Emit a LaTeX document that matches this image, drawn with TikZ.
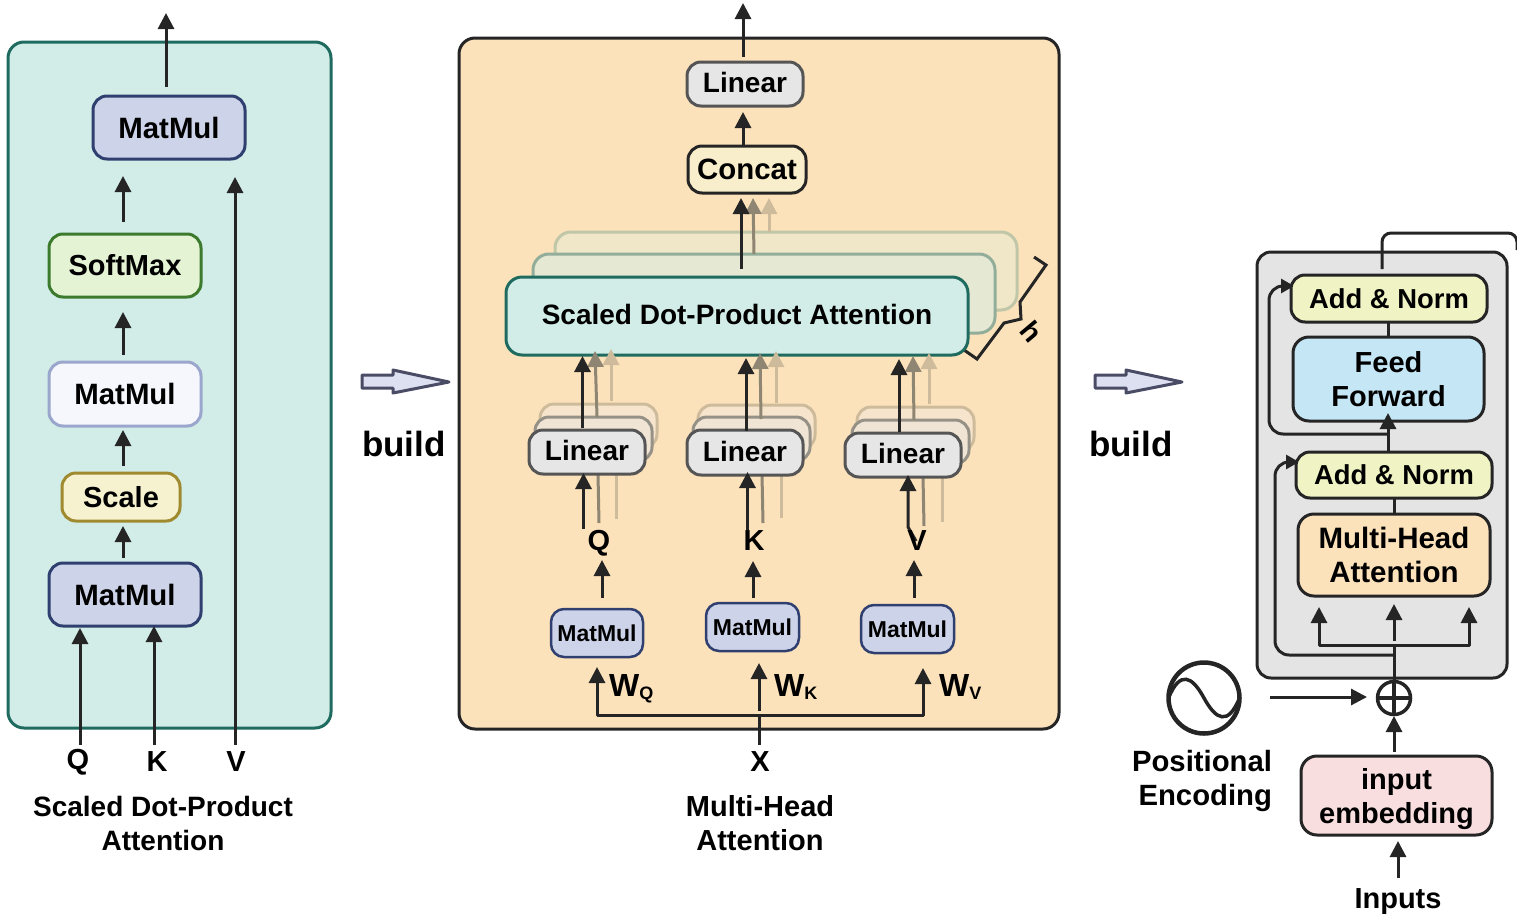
\documentclass[tikz,border=0pt]{standalone}
\usepackage{fontspec}
\setmainfont{Liberation Sans}
\usetikzlibrary{arrows.meta}
\definecolor{dk}{HTML}{252525}
\definecolor{tealf}{HTML}{D2ECE7}\definecolor{teals}{HTML}{1F6B60}
\definecolor{orf}{HTML}{FCE2BB}
\definecolor{blf}{HTML}{CDD3E8}\definecolor{bls}{HTML}{2F3F6F}
\definecolor{grf}{HTML}{E3F3D3}\definecolor{grs}{HTML}{3C7A2E}
\definecolor{wf}{HTML}{F5F7FD}\definecolor{ws}{HTML}{9AA6CC}
\definecolor{yf}{HTML}{F6F1CE}\definecolor{ys}{HTML}{A08A30}
\definecolor{gf}{HTML}{E6E6E6}\definecolor{gs}{HTML}{555555}
\definecolor{cf}{HTML}{F9EECB}
\definecolor{midt}{HTML}{8F8573}\definecolor{lt}{HTML}{CDBB9B}
\definecolor{anf}{HTML}{F0F3C3}\definecolor{ffb}{HTML}{C5E6F5}
\definecolor{pnk}{HTML}{F8DEDE}\definecolor{panel}{HTML}{E4E4E4}
\definecolor{arf}{HTML}{DDE0F0}\definecolor{ars}{HTML}{4A4C66}
\definecolor{gh2s}{HTML}{C0C6A8}\definecolor{gh2f}{HTML}{F0E6C8}
\definecolor{gh1s}{HTML}{92AE9B}\definecolor{gh1f}{HTML}{E5E8D3}
\definecolor{lg2f}{HTML}{F6E5CC}\definecolor{lg1f}{HTML}{F0E5D4}\definecolor{lg1s}{HTML}{969187}
\tikzset{
 x=1pt,y=-1pt,
 bx/.style={draw,rounded corners=#1,line width=3pt,inner sep=0pt,outer sep=0pt,align=center},
 bx/.default=11pt,
 tx/.style={font=\bfseries\fontsize{#1}{34}\selectfont,inner sep=0pt,align=center},
 tx/.default=29,
 arr/.style={line width=3pt,draw=dk,line join=round,-{Triangle[length=16pt,width=16pt]}},
 arrm/.style={line width=3pt,draw=midt,-{Triangle[length=16pt,width=16pt]}},
 arrl/.style={line width=3pt,draw=lt,-{Triangle[length=16pt,width=16pt]}},
 ln/.style={line width=3pt,draw=dk},
 blockarrow/.style={draw=ars,fill=arf,line width=3pt,line join=round},
 smallmm/.style={bx=13pt,line width=2.5pt,draw=bls,fill=blf,tx=23},
 linbox/.style={bx=14pt,draw=gs,fill=gf,tx=28,text depth=3pt},
}
\newcommand{\gup}[4]{\coordinate (#1a) at (#2,#3);\coordinate (#1b) at (#2,#4);}
% name, x1, y1, x2, y2, options, text
\newcommand{\bxn}[7]{%
 \pgfmathsetmacro\bxcx{(#2+#4)/2}\pgfmathsetmacro\bxcy{(#3+#5)/2}%
 \pgfmathsetmacro\bxw{#4-#2}\pgfmathsetmacro\bxh{#5-#3}%
 \node[bx,#6,minimum width=\bxw pt,minimum height=\bxh pt] (#1) at (\bxcx,\bxcy) {#7};}
\begin{document}
\begin{tikzpicture}
\useasboundingbox (0,0) rectangle (1517,921);
% ---------- left panel
\bxn{leftp}{8}{42}{331}{728}{bx=16pt,draw=teals,fill=tealf}{}
\bxn{mC}{93}{96}{245}{159}{draw=bls,fill=blf,bx=14pt,tx=29.4}{MatMul}
\bxn{soft}{49}{234}{201}{297}{draw=grs,fill=grf,bx=14pt,tx}{SoftMax}
\bxn{mB}{49}{362}{201}{426}{draw=ws,fill=wf,bx=14pt,tx=29.4}{MatMul}
\bxn{scale}{62}{473}{180}{521}{draw=ys,fill=yf,bx=14pt,tx}{Scale}
\bxn{mA}{49}{563}{201}{626}{draw=bls,fill=blf,bx=14pt,tx=29.4}{MatMul}
\node[tx] (lQ) at (78,762) {Q};
\node[tx] (lK) at (157,762) {K};
\node[tx] (lV) at (236,762) {V};
\node[tx=28] (ltitle) at (163,823.5) {Scaled Dot-Product\\Attention};
\gup{o}{166}{87}{13}\draw[arr] (oa) -- (ob);
\gup{s}{123}{222}{176}\draw[arr] (sa) -- (sb);
\gup{t}{123}{355}{312}\draw[arr] (ta) -- (tb);
\gup{u}{123}{466}{430}\draw[arr] (ua) -- (ub);
\gup{w}{123}{558}{526}\draw[arr] (wa) -- (wb);
\gup{q}{80}{745}{628}\draw[arr] (qa) -- (qb);
\gup{k}{154}{745}{626}\draw[arr] (ka) -- (kb);
\gup{v}{235}{745}{177}\draw[arr] (va) -- (vb);
% block arrows
\draw[blockarrow] (362,375) -- (393,375) -- (393,370) -- (449,382) -- (393,393) -- (393,388) -- (362,388) -- cycle;
\draw[blockarrow] (1095,375) -- (1126,375) -- (1126,370) -- (1182,382) -- (1126,393) -- (1126,388) -- (1095,388) -- cycle;
\node[tx=35] (b1) at (404,444) {build};
\node[tx=35] (b2) at (1131,444) {build};
% ---------- middle panel
\bxn{midp}{459}{38}{1059}{729}{bx=16pt,draw=dk,fill=orf}{}
\gup{xo}{743}{57}{3}\draw[arr] (xoa) -- (xob);
\bxn{lin}{687}{62}{803}{106}{linbox}{Linear}
\bxn{conc}{688}{146}{806}{193}{draw=dk,fill=cf,bx=14pt,tx=29.4}{Concat}
\gup{xc}{743}{146}{112}\draw[arr] (xca) -- (xcb);
% ghost SDPA
\bxn{g2}{555}{232}{1017}{310}{bx=16pt,draw=gh2s,fill=gh2f}{}
\bxn{g1}{533}{254}{995}{333}{bx=16pt,draw=gh1s,fill=gh1f}{}
% brace
\coordinate (br1) at (1034,257);\coordinate (br2) at (1046,265);\coordinate (br3) at (1020,302);
\coordinate (br4) at (1021,319);\coordinate (br5) at (1004,323);\coordinate (br6) at (977,359);\coordinate (br7) at (964,350);
\draw[ln,line join=miter] (br1) -- (br2) -- (br3) -- (br4) -- (br5) -- (br6) -- (br7);
\node[tx=28,rotate=-50] (hh) at (1032,332) {h};
% top ghost arrows
\gup{z2}{769}{232}{198}\draw[arrl] (z2a) -- (z2b);
\coordinate (z1a) at (754,254);\coordinate (z1b) at (753,198);\draw[arrm] (z1a) -- (z1b);
\gup{z0}{741}{269}{198}\draw[arr] (z0a) -- (z0b);
\bxn{sdpa}{506}{277}{968}{355}{bx=16pt,draw=teals,fill=tealf,tx=28,text depth=3pt}{Scaled Dot-Product Attention}
% Q column
\bxn{q2}{540}{404}{657}{448}{bx=14pt,draw=lt,fill=lg2f}{}
\bxn{q1}{535}{417}{652}{461}{bx=14pt,draw=lg1s,fill=lg1f}{}
\coordinate (a1) at (616,519);\coordinate (a2) at (616,474);\draw[ln,draw=lt] (a1) -- (a2);
\coordinate (a3) at (599,523);\coordinate (a4) at (598,474);\draw[ln,draw=midt] (a3) -- (a4);
\bxn{lq}{529}{430}{645}{474}{linbox}{Linear}
\gup{a5}{611}{401}{349}\draw[arrl] (a5a) -- (a5b);
\coordinate (a6) at (597,417);\coordinate (a7) at (595,351);\draw[arrm] (a6) -- (a7);
\gup{a8}{582.5}{428}{356}\draw[arr] (a8a) -- (a8b);
\gup{a9}{583.5}{529}{473}\draw[arr] (a9a) -- (a9b);
% K column
\bxn{k2}{698}{405}{815}{449}{bx=14pt,draw=lt,fill=lg2f}{}
\bxn{k1}{693}{417}{810}{461}{bx=14pt,draw=lg1s,fill=lg1f}{}
\coordinate (b1x) at (781,518);\coordinate (b2x) at (781,475);\draw[ln,draw=lt] (b1x) -- (b2x);
\coordinate (b3x) at (763,523);\coordinate (b4x) at (762,475);\draw[ln,draw=midt] (b3x) -- (b4x);
\bxn{lk}{687}{430}{803}{475}{linbox}{Linear}
\gup{b5}{776}{403}{351}\draw[arrl] (b5a) -- (b5b);
\coordinate (b6) at (761,419);\coordinate (b7) at (760,353);\draw[arrm] (b6) -- (b7);
\gup{b8}{746}{431}{358}\draw[arr] (b8a) -- (b8b);
\gup{b9}{747.5}{530}{472}\draw[arr] (b9a) -- (b9b);
% V column
\bxn{v2}{857}{407}{974}{451}{bx=14pt,draw=lt,fill=lg2f}{}
\bxn{v1}{852}{420}{969}{464}{bx=14pt,draw=lg1s,fill=lg1f}{}
\coordinate (c1x) at (942,522);\coordinate (c2x) at (942,477);\draw[ln,draw=lt] (c1x) -- (c2x);
\coordinate (c3x) at (924,526);\coordinate (c4x) at (923,477);\draw[ln,draw=midt] (c3x) -- (c4x);
\bxn{lv}{845}{433}{961}{477}{linbox}{Linear}
\gup{c5}{929}{404}{353}\draw[arrl] (c5a) -- (c5b);
\coordinate (c6) at (914,420);\coordinate (c7) at (913,356);\draw[arrm] (c6) -- (c7);
\gup{c8}{899}{432}{359}\draw[arr] (c8a) -- (c8b);
\coordinate (c9) at (916,541);\coordinate (c10) at (908,527);\coordinate (c11) at (908,475);
\draw[arr] (c9) -- (c10) -- (c11);
% labels
\node[tx] (tq) at (599,543) {Q};
\node[tx] (tk) at (754,541) {K};
\node[tx] (tv) at (917,541) {V};
\bxn{m1}{551}{609}{643}{657}{smallmm}{MatMul}
\bxn{m2}{706}{603}{799}{651}{smallmm}{MatMul}
\bxn{m3}{861}{605}{954}{653}{smallmm}{MatMul}
\gup{d1}{602}{598}{560}\draw[arr] (d1a) -- (d1b);
\gup{d2}{753}{598}{561}\draw[arr] (d2a) -- (d2b);
\gup{d3}{914}{598}{560}\draw[arr] (d3a) -- (d3b);
% W arrows
\coordinate (wm) at (759,715);\coordinate (wmb) at (759,711);\coordinate (wmt) at (759,663);
\coordinate (wl) at (597,715);\coordinate (wr) at (923,715);
\coordinate (wtl) at (597,667);\coordinate (wtr) at (923,668);
\draw[arr] (wmb) -- (wmt);
\draw[arr] (wm) -- (wl) -- (wtl);
\draw[arr] (wm) -- (wr) -- (wtr);
\node[tx] (tx1) at (760,762) {X};
\coordinate (xst) at (759,745);
\draw[ln] (xst) -- (wm);
\node[tx=32,anchor=base west] (wq) at (609,696) {W\fontsize{18}{18}\selectfont\raisebox{-3pt}{Q}};
\node[tx=32,anchor=base west] (wk) at (774,696) {W\fontsize{18}{18}\selectfont\raisebox{-3pt}{K}};
\node[tx=32,anchor=base west] (wv) at (939,696) {W\fontsize{18}{18}\selectfont\raisebox{-3pt}{V}};
\node[tx=29] (mtitle) at (760,823.5) {Multi-Head\\Attention};
% ---------- right panel
\coordinate (oc1) at (1382,269);\coordinate (oc2) at (1382,233);\coordinate (oc3) at (1517,233);\coordinate (oc4) at (1517,250);
\bxn{rp}{1257}{252}{1507}{678}{bx=14pt,draw=dk,fill=panel}{}
\draw[ln,rounded corners=9pt] (oc1) -- (oc2) -- (oc3) -- (oc4);
% connectors inside
\coordinate (s1) at (1393,655);\coordinate (s2) at (1275,655);\coordinate (s3) at (1275,462);\coordinate (s4) at (1299,462);
\draw[ln,rounded corners=14pt,-{Triangle[length=13pt,width=14pt]}] (s1) -- (s2) -- (s3) -- (s4);
\coordinate (u1) at (1388,434);\coordinate (u2) at (1269,434);\coordinate (u3) at (1269,286);\coordinate (u4) at (1294,286);
\draw[ln,rounded corners=14pt,-{Triangle[length=13pt,width=14pt]}] (u1) -- (u2) -- (u3) -- (u4);
\bxn{an2}{1291}{275}{1487}{322}{bx=14pt,draw=dk,fill=anf,tx=27.4}{Add \& Norm}
\bxn{ff}{1293}{337}{1484}{421}{bx=16pt,draw=dk,fill=ffb,tx}{Feed\\Forward}
\bxn{an1}{1296}{452}{1492}{498}{bx=14pt,draw=dk,fill=anf,tx=27.4}{Add \& Norm}
\bxn{mha}{1298}{514}{1490}{596}{bx=16pt,draw=dk,fill=orf,tx=29.5}{Multi-Head\\Attention}
\draw[ln] (an2.south -| ff.north) -- (ff.north);
\draw[ln] (an1.south -| mha.north) -- (mha.north);
\coordinate (ffa) at (1388,452);\coordinate (ffb1) at (1388,413);
\draw[arr] (ffa) -- (ffb1);
% plus
\node[draw=dk,line width=3.5pt,circle,minimum size=33pt,inner sep=0pt,outer sep=0pt] (plus) at (1394,698) {};
\draw[line width=3.5pt,draw=dk] (plus.north) -- (plus.south);
\draw[line width=3.5pt,draw=dk] (plus.west) -- (plus.east);
\coordinate (hb) at (1394,645);
\draw[ln] (plus.north) -- (hb);
\coordinate (hl) at (1319,645);\coordinate (hlt) at (1319,607);\coordinate (hr) at (1469,645);\coordinate (hrt) at (1469,607);
\draw[arr] (hb) -- (hl) -- (hlt);
\draw[arr] (hb) -- (hr) -- (hrt);
\coordinate (mm1) at (1394,641);\coordinate (mm2) at (1394,604);
\draw[arr] (mm1) -- (mm2);
% positional
\node[draw=dk,line width=4.5pt,circle,minimum size=71pt,inner sep=0pt,outer sep=0pt] (sine) at (1204,698) {};
\draw[line width=3.5pt,draw=dk] (sine.west) .. controls (1180,670) and (1192,676) .. (1204,698) .. controls (1216,720) and (1228,726) .. (sine.east);
\coordinate (pe) at (1270,697);\coordinate (pe2) at (1367,697);
\draw[arr] (pe) -- (pe2);
\node[tx=29.3,align=right] (pos) at (1202,780.5) {Positional\\Encoding};
% input
\bxn{emb}{1301}{756}{1492}{835}{bx=16pt,draw=dk,fill=pnk,tx,text depth=0pt}{input\\embedding}
\coordinate (em1) at (1394,752);\coordinate (em2) at (1394,716);
\draw[arr] (em1) -- (em2);
\node[tx,text depth=0pt] (inp) at (1398,899) {Inputs};
\coordinate (in1) at (1398,878);\coordinate (in2) at (1398,841);
\draw[arr] (in1) -- (in2);
\end{tikzpicture}
\end{document}
